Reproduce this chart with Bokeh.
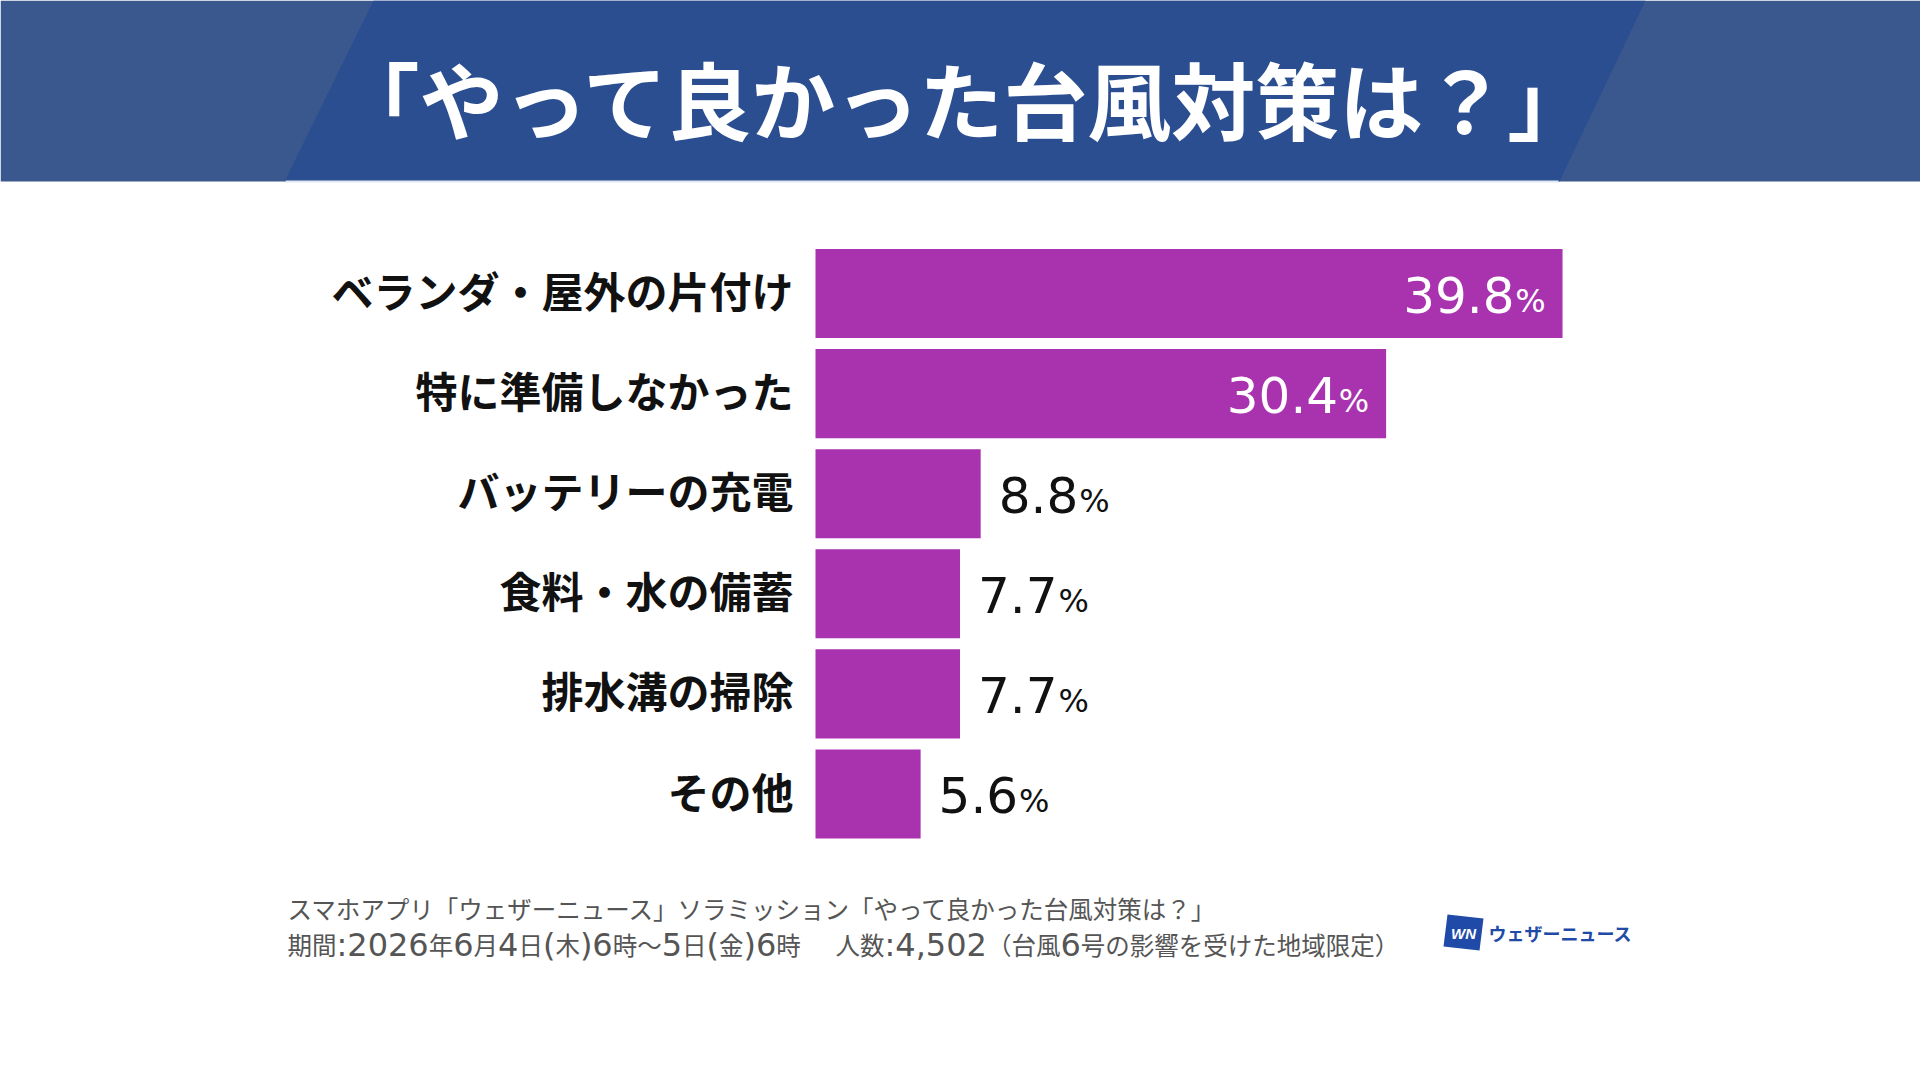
from bokeh.plotting import figure
from bokeh.models import Range1d, ColumnDataSource
from bokeh.core.properties import value
from bokeh.embed import file_html
from bokeh.resources import INLINE

# ---- data ----
categories = ["ベランダ・屋外の片付け", "特に準備しなかった", "バッテリーの充電",
              "食料・水の備蓄", "排水溝の掃除", "その他"]
percentages = [39.8, 30.4, 8.8, 7.7, 7.7, 5.6]
title_text = "「やって良かった台風対策は？」"
footer_line1 = "スマホアプリ「ウェザーニュース」ソラミッション「やって良かった台風対策は？」"
footer_line2 = "期間:2026年6月4日(木)6時〜5日(金)6時　 人数:4,502（台風6号の影響を受けた地域限定）"
brand_text = "ウェザーニュース"

# ---- style ----
W, H = 1920, 1080
BAR_COLOR = "#a932af"
JP = "Noto Sans CJK JP"
NUM = "DejaVu Sans"
LAT = "DejaVu Sans"
NUM_SIZE = 50
PCT_SIZE = 32
px_per_pct = 18.77
bar_left_px = 815
row0_px = 293
row_pitch = 100.1

p = figure(width=W, height=H, x_range=Range1d(0, W), y_range=Range1d(H, 0),
           output_backend="svg", toolbar_location=None, min_border=0,
           x_axis_location=None, y_axis_location=None)
p.grid.visible = False
p.outline_line_color = None
p.background_fill_color = "white"
p.border_fill_color = "white"

p.extra_x_ranges = {"val": Range1d(-bar_left_px / px_per_pct, (W - bar_left_px) / px_per_pct)}
p.extra_y_ranges = {"cat": Range1d((H - row0_px) / row_pitch, -row0_px / row_pitch)}

# ---- header band ----
p.patch([0, W, W, 0], [0, 0, 181, 181], color="#3b588e", line_width=0)
p.patch([373, 1645, 1559, 284], [0, 0, 181, 181], color="#2b4e91", line_width=0)
p.line([285, 1558], [181, 181], line_color="#dfe7f1", line_width=2)
p.text(x=[965], y=[97], text=[title_text], text_color="white",
       text_font=value(JP), text_font_style="bold", text_font_size="84px",
       text_align="center", text_baseline="middle")

# ---- bars ----
idx = list(range(len(categories)))
src = ColumnDataSource(dict(y=idx, v=percentages, cat=categories))
p.hbar(y="y", left=0, right="v", height=0.89, source=src, color=BAR_COLOR,
       line_width=0, x_range_name="val", y_range_name="cat")

p.text(x=0, y="y", text="cat", source=src, x_offset=-22, y_offset=-4, text_align="right",
       text_baseline="middle", text_font=value(JP), text_font_style="bold",
       text_font_size="42px", text_color="#111111",
       x_range_name="val", y_range_name="cat")

# value labels
num_txt, num_off, num_align, pct_off, pct_align, lab_col = [], [], [], [], [], []
for v in percentages:
    s = f"{v:.1f}"
    num_txt.append(s)
    w = (0.636 * (len(s) - 1) + 0.318) * NUM_SIZE
    if v > 20:
        pct_off.append(-17); pct_align.append("right")
        num_off.append(-17 - 31); num_align.append("right")
        lab_col.append("white")
    else:
        num_off.append(18); num_align.append("left")
        pct_off.append(18 + w + 1); pct_align.append("left")
        lab_col.append("#111111")
lsrc = ColumnDataSource(dict(y=idx, v=percentages, t=num_txt, no=num_off, na=num_align,
                             po=pct_off, pa=pct_align, c=lab_col,
                             pc=["%"] * len(idx)))
p.text(x="v", y="y", text="t", source=lsrc, x_offset="no", y_offset=1,
       text_align="na", text_baseline="middle", text_color="c",
       text_font=value(NUM), text_font_size=f"{NUM_SIZE}px",
       x_range_name="val", y_range_name="cat")
p.text(x="v", y="y", text="pc", source=lsrc, x_offset="po", y_offset=7,
       text_align="pa", text_baseline="middle", text_color="c",
       text_font=value(NUM), text_font_size=f"{PCT_SIZE}px",
       x_range_name="val", y_range_name="cat")

# ---- footer ----
p.text(x=[287], y=[908], text=[footer_line1],
       text_color="#555555", text_font=value(JP), text_font_size="24.5px",
       text_align="left", text_baseline="middle")

# second footer line: CJK runs in Noto Sans CJK, Latin runs in DejaVu Sans
CJK_SIZE = 24.5
LAT_SIZE = 32
lat_w = {":": 0.337, ",": 0.318, "(": 0.39, ")": 0.39, " ": 0.318}
runs = []
for ch in footer_line2:
    is_lat = ord(ch) < 0x2000
    if runs and runs[-1][1] == is_lat:
        runs[-1][0] += ch
    else:
        runs.append([ch, is_lat])
rx, rt, rlat = [], [], []
cx = 287
for t, is_lat in runs:
    if is_lat:
        w = sum(lat_w.get(c, 0.636) for c in t) * LAT_SIZE
    else:
        w = len(t) * CJK_SIZE
    if t.strip(" 　"):
        rx.append(cx); rt.append(t.strip(" ")); rlat.append(is_lat)
    cx += w
p.text(x=[x for x, l in zip(rx, rlat) if not l], y=944, text=[t for t, l in zip(rt, rlat) if not l],
       text_color="#555555", text_font=value(JP), text_font_size=f"{CJK_SIZE}px",
       text_align="left", text_baseline="middle")
p.text(x=[x for x, l in zip(rx, rlat) if l], y=944, text=[t for t, l in zip(rt, rlat) if l],
       text_color="#555555", text_font=value(LAT), text_font_size=f"{LAT_SIZE}px",
       text_align="left", text_baseline="middle")

# logo
p.patch([1447, 1483, 1479, 1443], [914, 918, 950, 946], color="#1f4aa8", line_width=0)
p.text(x=[1463], y=[933], text=["WN"], text_color="white", text_font=value("Liberation Sans"),
       text_font_style="bold italic", text_font_size="15px",
       text_align="center", text_baseline="middle")
p.text(x=[1488], y=[932], text=[brand_text], text_color="#1f4aa8",
       text_font=value(JP), text_font_style="bold", text_font_size="18px",
       text_align="left", text_baseline="middle")

open("out.html", "w").write(file_html(p, INLINE))
